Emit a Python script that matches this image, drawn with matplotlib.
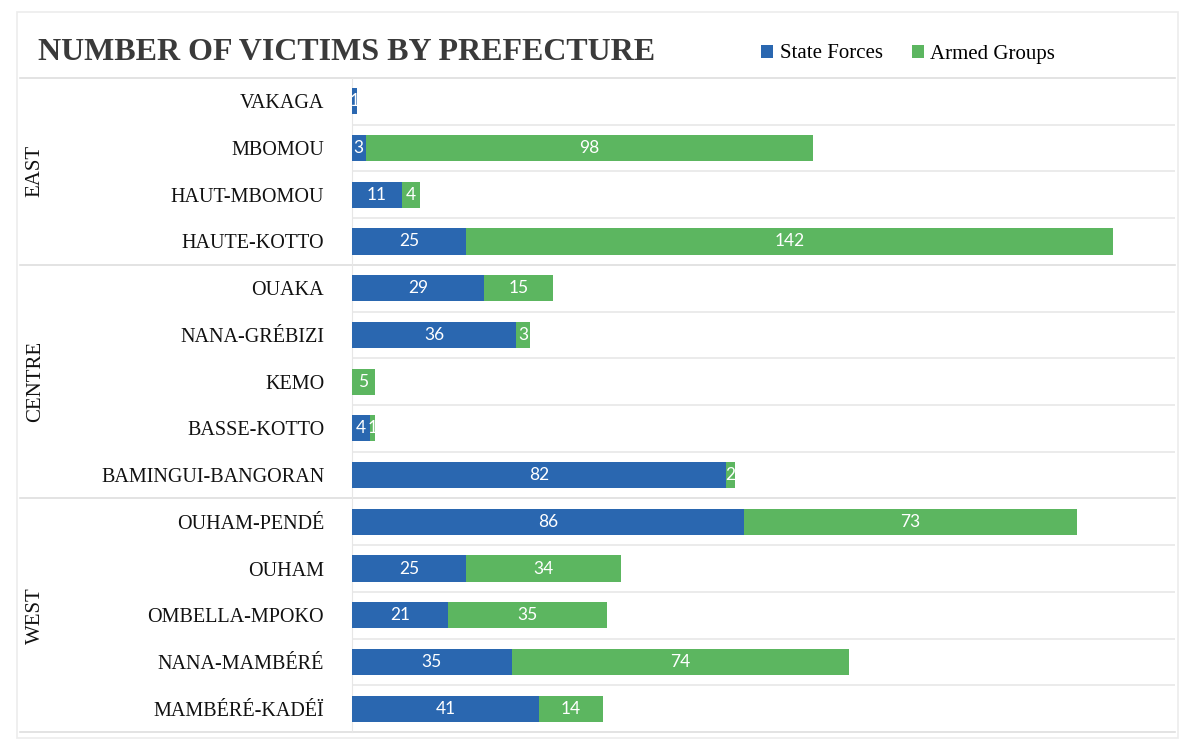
import matplotlib.pyplot as plt
from matplotlib.patches import Rectangle
import numpy as np

prefectures = ["VAKAGA", "MBOMOU", "HAUT-MBOMOU", "HAUTE-KOTTO",
               "OUAKA", "NANA-GRÉBIZI", "KEMO", "BASSE-KOTTO", "BAMINGUI-BANGORAN",
               "OUHAM-PENDÉ", "OUHAM", "OMBELLA-MPOKO", "NANA-MAMBÉRÉ", "MAMBÉRÉ-KADÉÏ"]
state_forces = [1, 3, 11, 25, 29, 36, 0, 4, 82, 86, 25, 21, 35, 41]
armed_groups = [0, 98, 4, 142, 15, 3, 5, 1, 2, 73, 34, 35, 74, 14]
regions = ["EAST", "CENTRE", "WEST"]
region_sizes = [4, 5, 5]

BLUE = "#2a67b0"
GREEN = "#5cb660"
SERIF = "Liberation Serif"

fig = plt.figure(figsize=(11.89, 7.47), dpi=100)
ax = fig.add_axes([352 / 1189, 1 - 732 / 747, 823 / 1189, 654 / 747])

n = len(prefectures)
y = np.arange(n)
sf = np.array(state_forces)
ag = np.array(armed_groups)

ax.barh(y, sf, height=0.56, color=BLUE, label="State Forces", zorder=3)
ax.barh(y, ag, left=sf, height=0.56, color=GREEN, label="Armed Groups", zorder=3)

# value labels inside the segments (zeros are skipped)
for i in range(n):
    if sf[i] > 0:
        ax.text(sf[i] / 2, i, str(sf[i]), ha="center", va="center",
                color="white", fontsize=12.5, family="Lato", zorder=4)
    if ag[i] > 0:
        ax.text(sf[i] + ag[i] / 2, i, str(ag[i]), ha="center", va="center",
                color="white", fontsize=12.5, family="Lato", zorder=4)

ax.set_xlim(0, 180.5)
ax.set_ylim(n - 0.5, -0.5)
ax.set_xticks([])
ax.set_yticks(y)
ax.set_yticklabels(prefectures, family=SERIF, fontsize=14.5, color="#111111")
ax.tick_params(axis="y", length=0, pad=20)

for s in ["top", "right", "bottom"]:
    ax.spines[s].set_visible(False)
ax.spines["left"].set_color("#e6e6e6")

# row separators; group boundaries run across the label column too
group_edges = np.cumsum(region_sizes)[:-1] - 0.5
for b in np.arange(-0.5, n + 0.5, 1):
    if b in group_edges or b == -0.5 or b == n - 0.5:
        ax.plot([-0.403, 1.0], [b, b], color="#dedede", lw=1.2,
                transform=ax.get_yaxis_transform(), clip_on=False, zorder=1)
    else:
        ax.axhline(b, color="#e8e8e8", lw=1.2, zorder=1)

start = 0
for name, size in zip(regions, region_sizes):
    mid = start + (size - 1) / 2
    ax.text(-0.385, mid, name, rotation=90, ha="center", va="center",
            family=SERIF, fontsize=15, color="#111111",
            transform=ax.get_yaxis_transform())
    start += size

fig.text(38 / 1189, 1 - 52 / 747, "NUMBER OF VICTIMS BY PREFECTURE",
         family=SERIF, fontweight="bold", fontsize=23, color="#3a3a3a",
         ha="left", va="center")

fig.legend(loc="center left", bbox_to_anchor=(742 / 1189, 1 - 54 / 747), ncol=2,
           frameon=False, handlelength=0.6, handleheight=0.6, handletextpad=0.3,
           columnspacing=1.4, prop={"family": SERIF, "size": 15})

fig.patches.append(Rectangle((17 / 1189, 1 - 738 / 747), 1161 / 1189, 726 / 747,
                             transform=fig.transFigure, fill=False,
                             edgecolor="#ececec", lw=1.2))

fig.savefig("out.png", dpi=100)
